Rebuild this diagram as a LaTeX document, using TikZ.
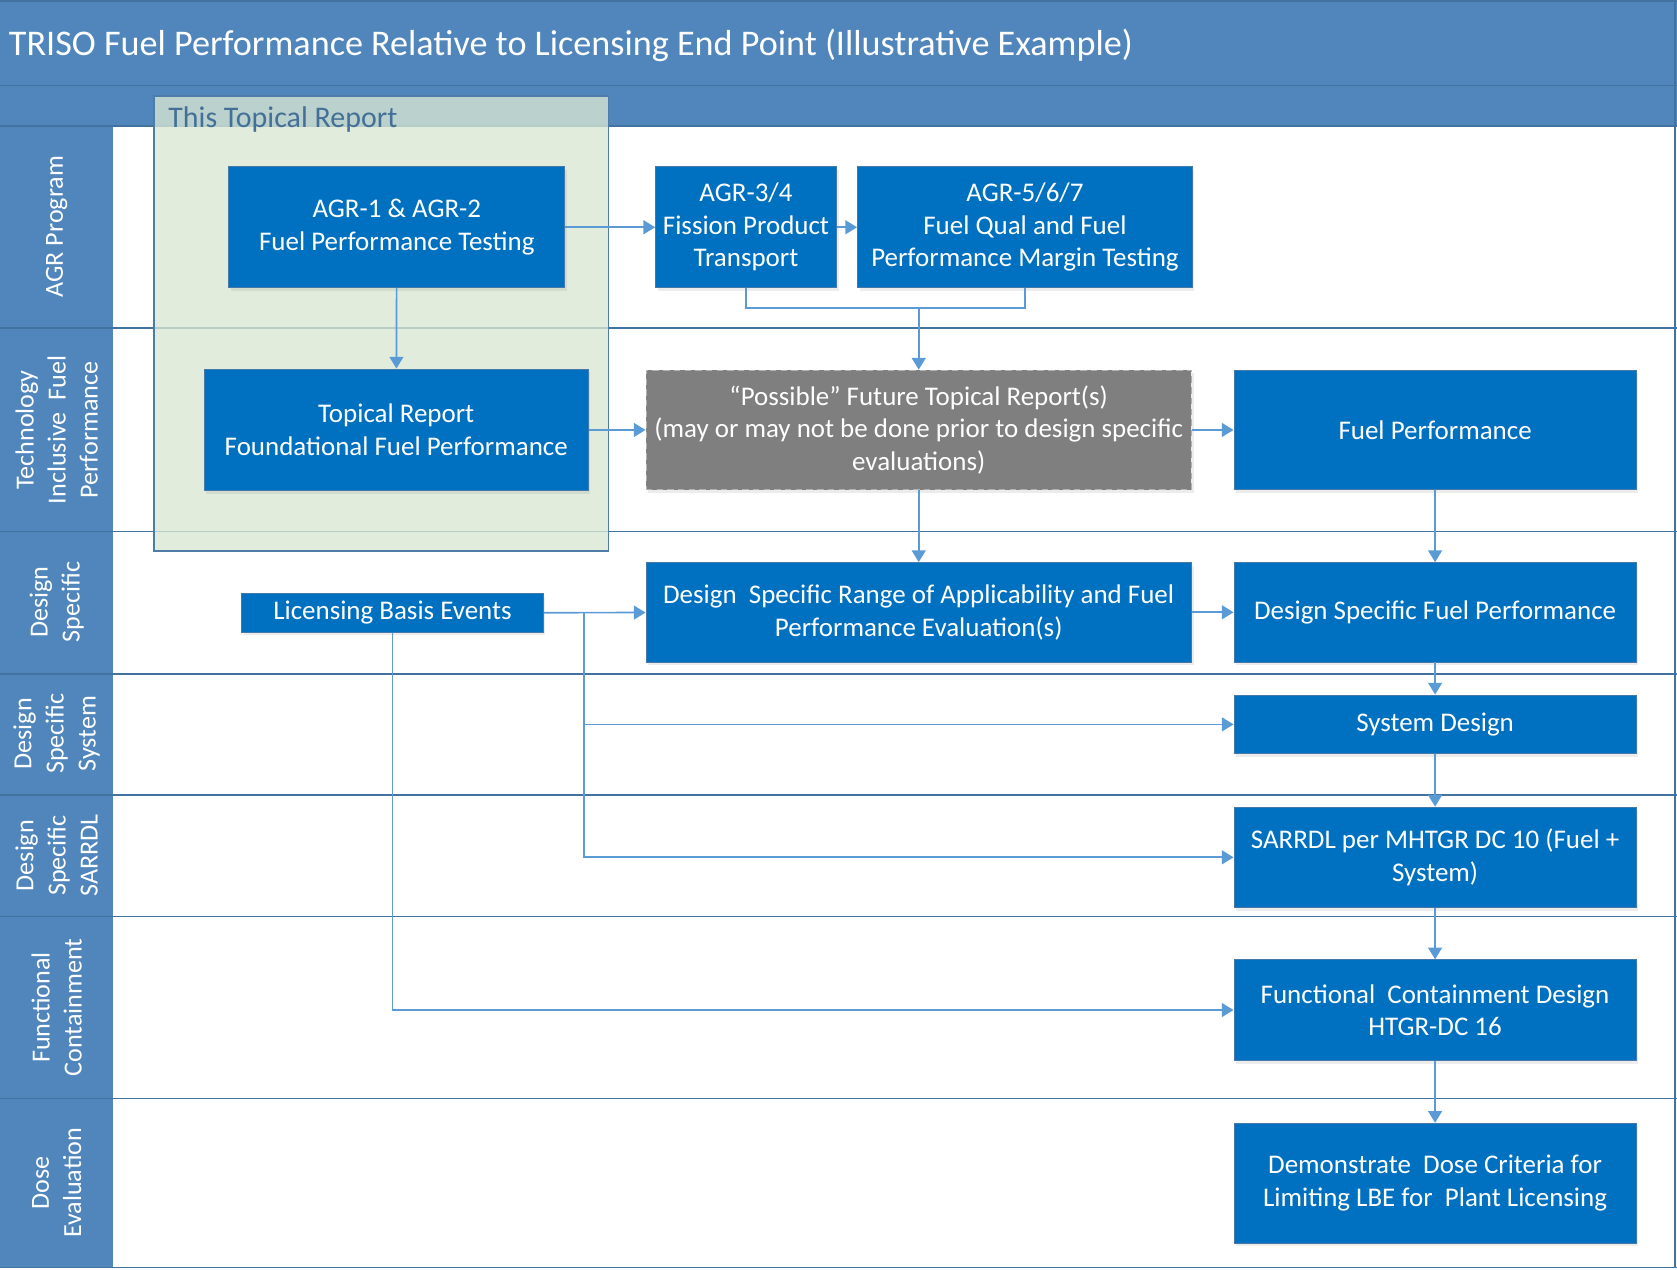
\documentclass[tikz,border=0pt]{standalone}
\usepackage{fontspec}
\setmainfont{Carlito}
\usepackage{tikz}
\usetikzlibrary{positioning, arrows.meta, shadows}

\definecolor{hdrblue}{RGB}{80,134,188}
\definecolor{laneline}{RGB}{66,114,160}
\definecolor{boxblue}{RGB}{0,112,192}
\definecolor{boxline}{RGB}{70,120,170}
\definecolor{arrowblue}{RGB}{91,155,213}
\definecolor{trgreen}{RGB}{216,231,211}
\definecolor{trline}{RGB}{78,124,168}
\definecolor{trtext}{RGB}{68,112,152}
\definecolor{possgray}{RGB}{127,127,127}

\newcommand{\bxfont}{\fontsize{12.6}{15.2}\selectfont}

\begin{document}
\begin{tikzpicture}[%
    x=0.5pt, y=-0.5pt,
    node distance=10pt, align=center,
    box/.style={draw=boxline, line width=0.4pt, fill=boxblue, text=white,
      inner sep=0pt, font=\bxfont,
      drop shadow={shadow xshift=1pt, shadow yshift=-1.5pt, opacity=0.15}},
    greybox/.style={box, fill=possgray, draw=gray!60, densely dashed},
    lanelabel/.style={rotate=90, text=white, font=\fontsize{12.2}{15}\selectfont},
    laneln/.style={draw=laneline, line width=0.8pt},
    conn/.style={-{Triangle[length=5.5pt,width=6.5pt]}, draw=arrowblue, line width=0.8pt},
    every edge/.style={draw, conn}
  ]
    \useasboundingbox (0,0) rectangle (1568,1187);

    \fill[hdrblue] (0,0) rectangle (1568,118);
    \fill[hdrblue] (0,118) rectangle (106,1185);
    \draw[laneln]
      (0,1) -- (1568,1)
      (0,80) -- (1568,80)
      (0,118) -- (1568,118)
      (0,307) -- (1568,307)
      (0,497) -- (1568,497)
      (0,630) -- (1568,630)
      (0,743) -- (1568,743)
      (0,857) -- (1568,857)
      (0,1027) -- (1568,1027)
      (0,1185) -- (1568,1185)
      (1566,0) -- (1566,1185);

    \node[anchor=west, inner sep=0pt, text=white, font=\fontsize{16.9}{20}\selectfont] (t) at (8,42)
      {TRISO Fuel Performance Relative to Licensing End Point (Illustrative Example)};

    \node[lanelabel] (l1) at (53,212) {AGR Program};
    \node[lanelabel] (l2) at (53,402) {Technology\\Inclusive~ Fuel\\Performance};
    \node[lanelabel] (l3) at (53,563) {Design\\Specific};
    \node[lanelabel] (l4) at (53,686) {Design\\Specific\\System};
    \node[lanelabel] (l5) at (53,800) {Design\\Specific\\SARRDL};
    \node[lanelabel] (l6) at (53,942) {Functional\\Containment};
    \node[lanelabel] (l7) at (53,1106) {Dose\\Evaluation};

    \draw[trline, line width=0.8pt, fill=trgreen, fill opacity=0.78] (144,90) rectangle (569,515);
    \node[anchor=west, inner sep=0pt, text=trtext, font=\fontsize{14}{16}\selectfont] (tr) at (157,112) {This Topical Report};

    \node[box, minimum width=157pt, minimum height=56.5pt] (1) at (371,212.5)
      {AGR-1 \& AGR-2\\Fuel Performance Testing};

    \node[box, minimum width=84.5pt, minimum height=56.5pt] (2) at (697.5,212.5)
      {AGR-3/4\\Fission Product\\Transport};

    \node[box, minimum width=156.5pt, minimum height=56.5pt] (3) [right=9.5pt of 2]
      {AGR-5/6/7\\Fuel Qual and Fuel\\Performance Margin Testing};

    \node[box, minimum width=179.5pt, minimum height=57pt] (4) at (370.5,402)
      {Topical Report\\Foundational Fuel Performance};

    \node[greybox, minimum width=255pt, minimum height=56pt] (5) at (859,402)
      {“Possible” Future Topical Report(s)\\(may or may not be done prior to design specific\\evaluations)};

    \node[box, minimum width=188pt, minimum height=56pt] (6) [right=19.5pt of 5]
      {Fuel Performance};

    \node[box, minimum width=141pt, minimum height=18pt] (7) at (367,573)
      {Licensing Basis Events};

    \node[box, minimum width=255pt, minimum height=46.5pt] (8) at (859,572.5)
      {Design~ Specific Range of Applicability and Fuel\\Performance Evaluation(s)};

    \node[box, minimum width=188pt, minimum height=46.5pt] (9) [right=19.5pt of 8]
      {Design Specific Fuel Performance};

    \node[box, minimum width=188pt, minimum height=27.5pt] (10) [below=15pt of 9]
      {System Design};

    \node[box, minimum width=188pt, minimum height=47pt] (11) [below=24.5pt of 10]
      {SARRDL per MHTGR DC 10 (Fuel +\\System)};

    \node[box, minimum width=188pt, minimum height=47pt] (12) [below=24pt of 11]
      {Functional~ Containment Design\\HTGR-DC 16};

    \node[box, minimum width=188pt, minimum height=56pt] (13) [below=29pt of 12]
      {Demonstrate~ Dose Criteria for\\Limiting LBE for~ Plant Licensing};

    \coordinate (j1) at (859,288);
    \coordinate (j2) at (546,573);

    \path (1) edge (2)
          (2) edge (3)
          (1) edge (4)
          (4) edge (5)
          (5) edge (6)
          (5) edge (8)
          (6) edge (9)
          (7) edge (8)
          (8) edge (9)
          (9) edge (10)
          (10) edge (11)
          (11) edge (12)
          (12) edge (13);

    \draw[conn, -] (2.south) |- (j1) -| (3.south);
    \draw[conn] (j1) -- (5.north);
    \draw[conn] (j2) |- (10.west);
    \draw[conn] (j2) |- (11.west);
    \draw[conn] (7.south) |- (12.west);
  \end{tikzpicture}
\end{document}
